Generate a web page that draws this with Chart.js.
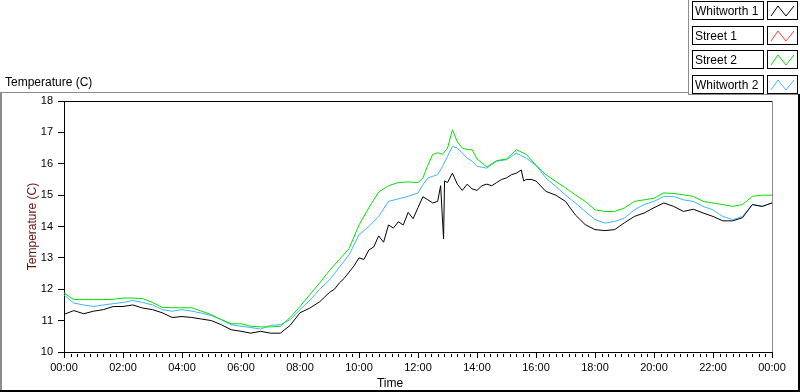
<!DOCTYPE html>
<html>
<head>
<meta charset="utf-8">
<script src="https://cdn.jsdelivr.net/npm/chart.js@4.4.0/dist/chart.umd.min.js"></script>
<style>
  body { margin: 0; background: #fff; }
  #wrap { position: relative; width: 800px; height: 392px; overflow: hidden; font-family: "Liberation Sans", Arial, sans-serif; }
  #chart { position: absolute; left: 0; top: 0; }
  .ln { position: absolute; }
  #title { position: absolute; left: 5px; top: 75px; font-size: 12px; line-height: 14px; color: #000; }
  #xtitle { position: absolute; left: 350px; width: 80px; top: 376px; text-align: center; font-size: 12px; line-height: 14px; color: #000; }
  .lab { position: absolute; left: 692px; border: 1px solid #000; font-size: 12px; line-height: 15px; padding-top: 2px; padding-left: 2px; box-sizing: border-box; width: 72px; height: 19px; white-space: nowrap; color: #000; }
  .smp { position: absolute; left: 767px; width: 31px; height: 19px; }
</style>
</head>
<body>
<div id="wrap">
  <canvas id="chart" width="800" height="392"></canvas>
  <div class="ln" style="left:0;top:92px;width:688px;height:1px;background:#8c8c8c"></div>
  <div class="ln" style="left:688px;top:0;width:1px;height:95px;background:#8c8c8c"></div>
  <div class="ln" style="left:688px;top:94px;width:112px;height:1px;background:#8c8c8c"></div>
  <div class="ln" style="left:0;top:92px;width:2px;height:300px;background:#8c8c8c"></div>
  <div class="ln" style="left:0;top:390px;width:800px;height:2px;background:#000"></div>
  <div class="ln" style="left:798px;top:94px;width:2px;height:298px;background:#000"></div>
  <div id="title">Temperature (C)</div>
  <div id="xtitle">Time</div>
  <div id="legend"></div>
</div>
<script>
// shared sample times for Street 2 / Whitworth 2
var times = [
  "00:00","00:20","00:40","01:00","01:20","01:40","02:00","02:20","02:40","03:00",
  "03:20","03:40","04:00","04:20","04:40","05:00","05:20","05:40","06:00","06:20",
  "06:40","07:00","07:20","07:40","08:00","08:20","08:40","09:00","09:20","09:40",
  "10:00","10:20","10:40","11:00","11:20","11:40","12:00",
  "12:10","12:20","12:30","12:40","12:50","13:00","13:10","13:20","13:30","13:40","13:50","14:00",
  "14:20","14:40","15:00","15:20","15:40","16:00","16:20","16:40","17:00","17:20",
  "17:40","18:00","18:20","18:40","19:00","19:20","19:40","20:00","20:20","20:40",
  "21:00","21:20","21:40","22:00","22:20","22:40","23:00","23:20","23:40","24:00"
];

var street2 = [
  11.88, 11.67, 11.67, 11.67, 11.67, 11.68, 11.72, 11.72, 11.70, 11.58,
  11.42, 11.41, 11.41, 11.41, 11.30, 11.19, 11.03, 10.90, 10.90, 10.82,
  10.80, 10.80, 10.82, 11.10, 11.45, 11.83, 12.20, 12.60, 12.95, 13.30,
  14.05, 14.60, 15.10, 15.30, 15.40, 15.42, 15.40,
  15.55, 15.95, 16.30, 16.35, 16.30, 16.50, 17.08, 16.70, 16.50, 16.45, 16.45, 16.15,
  15.90, 16.10, 16.15, 16.45, 16.30, 15.95, 15.65, 15.44, 15.23, 15.01,
  14.80, 14.53, 14.48, 14.48, 14.59, 14.80, 14.85, 14.90, 15.07, 15.05,
  15.01, 14.96, 14.80, 14.75, 14.70, 14.64, 14.70, 14.96, 15.00, 15.00
];

var whitworth2 = [
  11.82, 11.56, 11.50, 11.45, 11.50, 11.54, 11.58, 11.64, 11.58, 11.50,
  11.35, 11.30, 11.35, 11.30, 11.24, 11.16, 11.03, 10.87, 10.82, 10.78,
  10.73, 10.85, 10.87, 11.03, 11.35, 11.65, 12.00, 12.30, 12.70, 13.10,
  13.74, 14.00, 14.32, 14.80, 14.88, 14.96, 15.07,
  15.33, 15.55, 15.60, 15.65, 15.92, 16.24, 16.55, 16.50, 16.34, 16.18, 16.08, 15.92,
  15.86, 16.08, 16.13, 16.34, 16.18, 15.95, 15.55, 15.28, 15.00, 14.75,
  14.48, 14.22, 14.11, 14.16, 14.27, 14.53, 14.70, 14.80, 14.96, 14.96,
  14.85, 14.80, 14.64, 14.53, 14.32, 14.22, 14.32, 14.70, 14.64, 14.75
];

// Whitworth 1 is noisier, sampled more densely around midday
var whitworth1Times = [
  "00:00","00:20","00:40","01:00","01:20","01:40","02:00","02:20","02:40","03:00",
  "03:20","03:40","04:00","04:20","04:40","05:00","05:20","05:40","06:00","06:20",
  "06:40","07:00","07:20","07:40","08:00","08:20","08:40","08:50","09:00","09:10",
  "09:20","09:30","09:40","09:50","10:00","10:10","10:20","10:30","10:40","10:50",
  "11:00","11:10","11:20","11:30","11:40","11:50","12:00","12:10","12:20","12:30",
  "12:40","12:46","12:52","12:54","13:00","13:10","13:20","13:30","13:40","13:50",
  "14:00","14:10","14:20","14:30","14:40","14:50","15:00","15:10","15:20","15:30",
  "15:35","15:40","15:50","16:00","16:20","16:40","17:00","17:20","17:40","18:00",
  "18:20","18:40","19:00","19:20","19:40","20:00","20:20","20:40","21:00","21:20",
  "21:40","22:00","22:20","22:40","23:00","23:20","23:40","24:00"
];
var whitworth1 = [
  11.20, 11.32, 11.22, 11.30, 11.35, 11.45, 11.45, 11.50, 11.40, 11.35,
  11.25, 11.10, 11.13, 11.10, 11.05, 11.00, 10.87, 10.71, 10.66, 10.60,
  10.66, 10.60, 10.60, 10.85, 11.25, 11.40, 11.60, 11.75, 11.90, 12.00,
  12.20, 12.35, 12.55, 12.75, 13.00, 12.95, 13.25, 13.35, 13.70, 13.50,
  14.05, 13.95, 14.15, 14.05, 14.45, 14.25, 14.60, 14.95, 14.85, 14.75,
  14.80, 15.30, 13.60, 15.45, 15.40, 15.70, 15.35, 15.15, 15.35, 15.20,
  15.15, 15.30, 15.35, 15.30, 15.40, 15.50, 15.55, 15.65, 15.70, 15.80,
  15.45, 15.50, 15.50, 15.45, 15.12, 15.00, 14.80, 14.37, 14.06, 13.90,
  13.87, 13.90, 14.12, 14.32, 14.43, 14.60, 14.75, 14.64, 14.48, 14.55,
  14.43, 14.32, 14.18, 14.18, 14.28, 14.70, 14.64, 14.75
];

// Street 1 shows no samples in this trace
var street1Times = [];
var street1 = [];

var seriesNames = ["Whitworth 1", "Street 1", "Street 2", "Whitworth 2"];
var seriesColors = ["#000000", "#ff3c3c", "#00e000", "#3cb4ff"];

function toHours(t) {
  var p = t.split(":");
  return Number(p[0]) + Number(p[1]) / 60;
}
function pts(ts, vs) {
  return ts.map(function (t, i) { return { x: toHours(t), y: vs[i] }; });
}

var seriesData = [
  pts(whitworth1Times, whitworth1),
  pts(street1Times, street1),
  pts(times, street2),
  pts(times, whitworth2)
];

// legend boxes on the top right
var legendTops = [1, 26, 50, 75];
var legend = document.getElementById("legend");
seriesNames.forEach(function (name, i) {
  var lab = document.createElement("div");
  lab.className = "lab";
  lab.style.top = legendTops[i] + "px";
  lab.textContent = name;
  legend.appendChild(lab);
  var smp = document.createElementNS("http://www.w3.org/2000/svg", "svg");
  smp.setAttribute("class", "smp");
  smp.setAttribute("width", "31");
  smp.setAttribute("height", "19");
  smp.style.top = legendTops[i] + "px";
  smp.innerHTML = '<rect x="0.5" y="0.5" width="30" height="18" fill="#fff" stroke="#000"/>' +
    '<polyline points="4,15 11,5 19,15 27,5" fill="none" stroke="' + seriesColors[i] + '" stroke-width="1"/>';
  legend.appendChild(smp);
});

var font11 = { family: "'Liberation Sans', Arial, sans-serif", size: 11 };
var font12 = { family: "'Liberation Sans', Arial, sans-serif", size: 12 };

var framePlugin = {
  id: "frame",
  afterDraw: function (chart) {
    var ctx = chart.ctx, a = chart.chartArea, xs = chart.scales.x;
    ctx.save();
    ctx.lineWidth = 1;
    ctx.strokeStyle = "#000";
    ctx.beginPath();
    ctx.moveTo(a.left, a.top + 0.5);
    ctx.lineTo(a.right, a.top + 0.5);
    ctx.stroke();
    ctx.strokeStyle = "#8c8c8c";
    ctx.beginPath();
    ctx.moveTo(a.right + 0.5, a.top);
    ctx.lineTo(a.right + 0.5, a.bottom);
    ctx.stroke();
    // minor ticks, 8 between each labelled hour pair
    ctx.strokeStyle = "#000";
    ctx.beginPath();
    for (var k = 0; k <= 108; k++) {
      if (k % 9 === 0) continue;
      var px = Math.round(xs.getPixelForValue(k * 2 / 9)) + 0.5;
      ctx.moveTo(px, a.bottom + 2);
      ctx.lineTo(px, a.bottom + 5);
    }
    ctx.stroke();
    ctx.restore();
  }
};

var ctx = document.getElementById("chart").getContext("2d");
var chart = new Chart(ctx, {
  type: "line",
  data: {
    datasets: seriesNames.map(function (name, i) {
      return {
        label: name,
        data: seriesData[i],
        borderColor: seriesColors[i],
        borderWidth: 1,
        pointRadius: 0,
        tension: 0,
        fill: false
      };
    })
  },
  options: {
    responsive: false,
    animation: false,
    layout: { padding: { top: 101, right: 28, left: 0, bottom: 0 } },
    plugins: { legend: { display: false }, tooltip: { enabled: false } },
    scales: {
      x: {
        type: "linear",
        min: 0,
        max: 24,
        ticks: {
          stepSize: 2,
          autoSkip: false,
          maxRotation: 0,
          padding: 3,
          color: "#000",
          font: font11,
          callback: function (v) {
            var h = Math.round(v) % 24;
            return (h < 10 ? "0" : "") + h + ":00";
          }
        },
        grid: { drawOnChartArea: false, tickLength: 6, color: "#000" },
        border: { color: "#000" },
        afterFit: function (s) { s.height = 40; }
      },
      y: {
        min: 10,
        max: 18,
        ticks: { stepSize: 1, padding: 5, color: "#000", font: font11 },
        grid: { drawOnChartArea: false, tickLength: 6, color: "#000" },
        border: { color: "#000" },
        title: { display: true, text: "Temperature (C)", color: "#6a1010", font: font12, padding: { top: 25, bottom: 0 } },
        afterFit: function (s) { s.width = 64; }
      }
    }
  },
  plugins: [framePlugin]
});
</script>
</body>
</html>
